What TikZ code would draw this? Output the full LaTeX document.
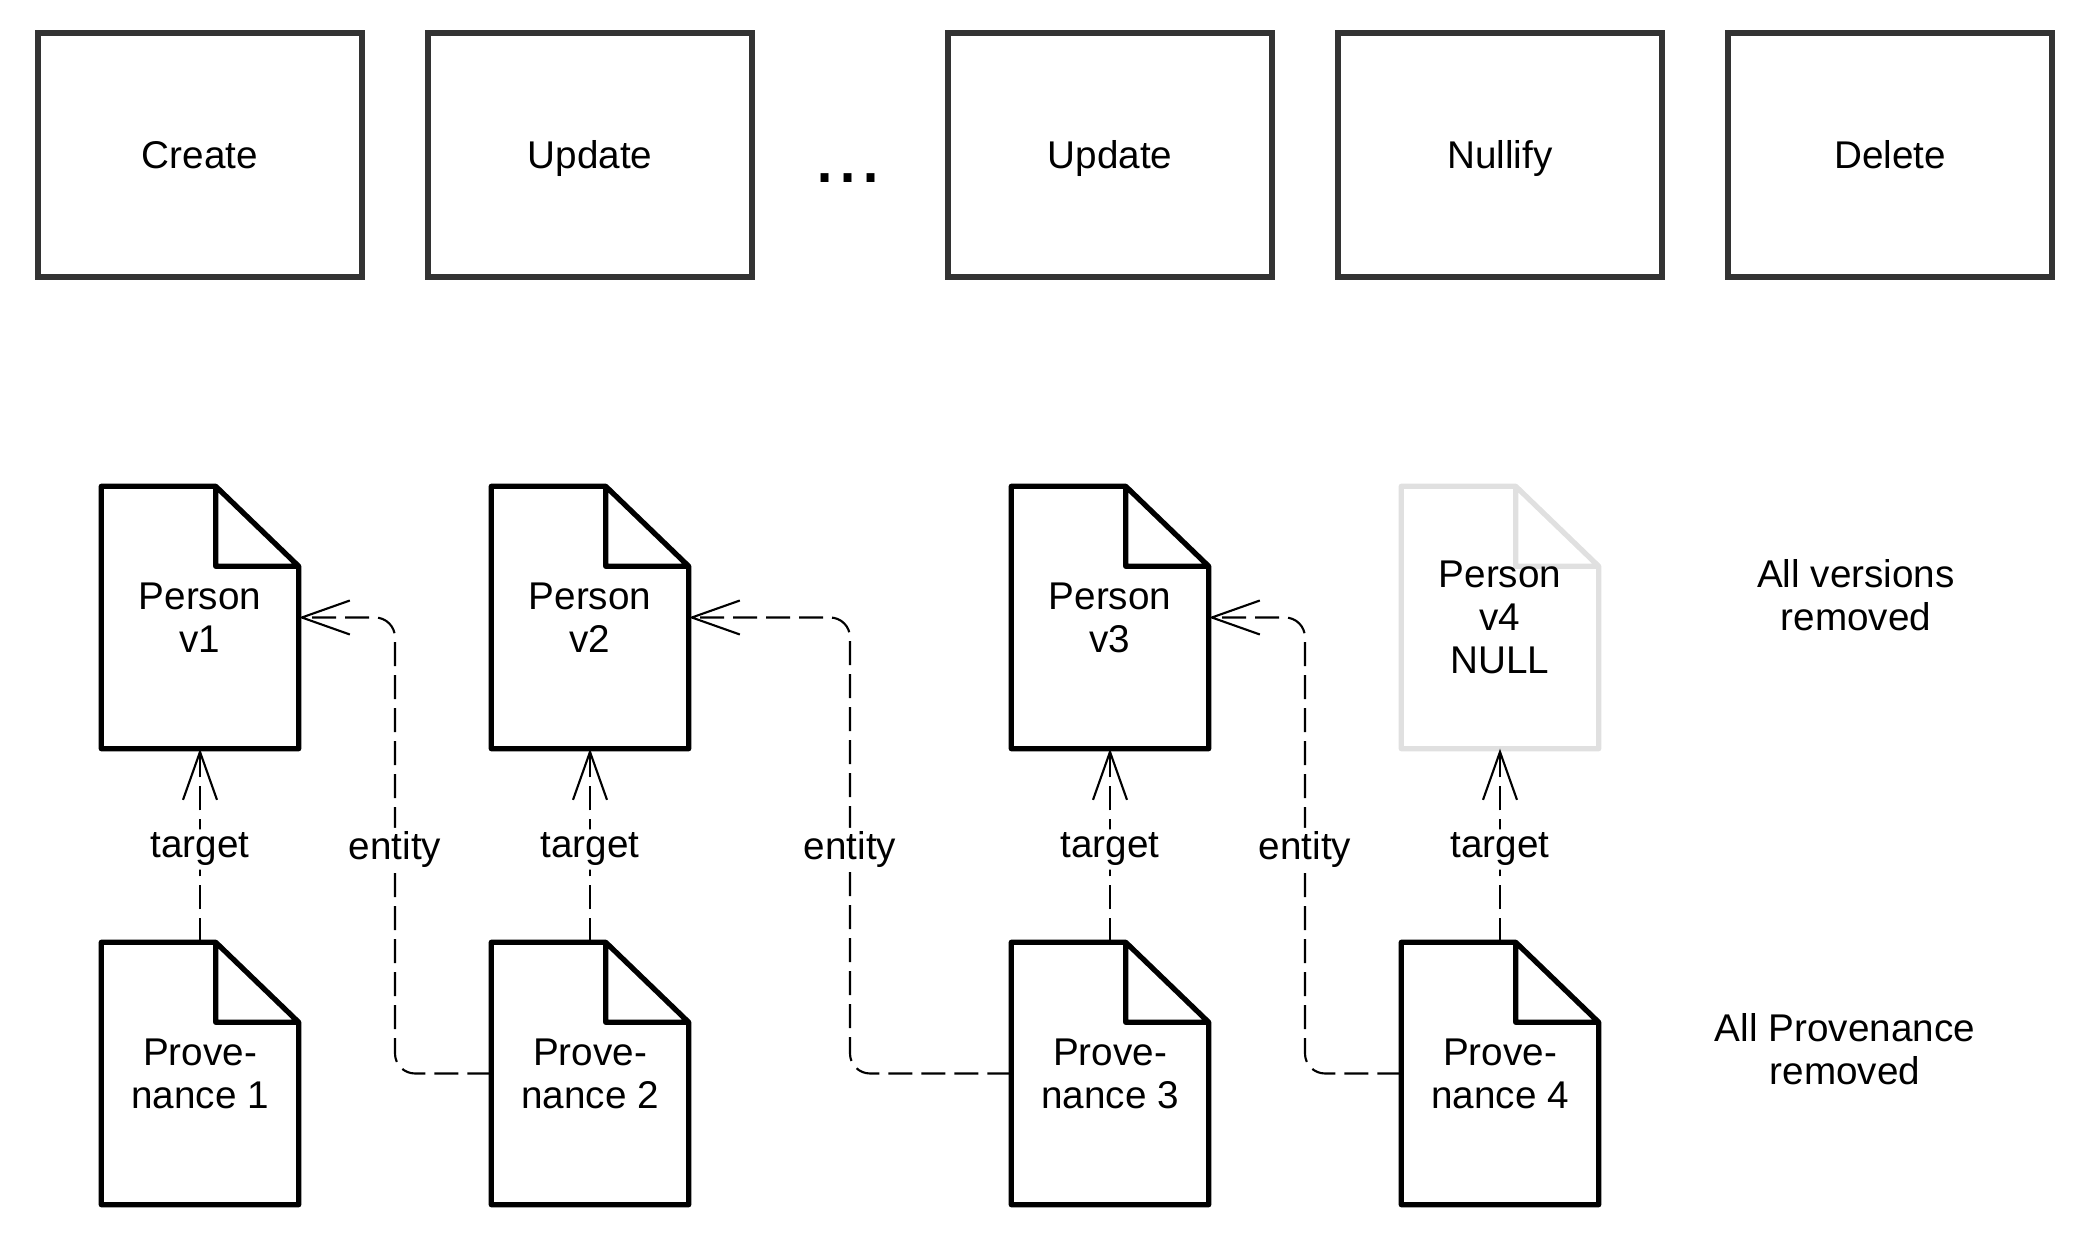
\documentclass[tikz,border=0pt]{standalone}
\usepackage{fontspec}
\setmainfont{Liberation Sans}
\usetikzlibrary{arrows.meta,calc}
\definecolor{boxgrey}{HTML}{333333}
\definecolor{nullgrey}{HTML}{E0E0E0}
\begin{document}
\begin{tikzpicture}
                [font=\fontsize{11}{12.2}\selectfont,
                 op/.style={rectangle, draw=boxgrey, line width=1.6pt, minimum width=3.24cm, minimum height=2.44cm, inner sep=0pt,
                   text height=7.9pt, text depth=0pt},
                 doc/.style={rectangle, minimum width=1.96cm, minimum height=2.61cm, inner sep=0pt, align=center,
                   append after command={\pgfextra{\draw[draw=#1, line width=1.5pt, line join=round]
                     (\tikzlastnode.south west) -- (\tikzlastnode.north west) -- ([xshift=-8.3mm]\tikzlastnode.north east)
                     -- ([yshift=-8mm]\tikzlastnode.north east) -- (\tikzlastnode.south east) -- cycle
                     ([xshift=-8.3mm]\tikzlastnode.north east) |- ([yshift=-8mm]\tikzlastnode.north east);}}},
                 doc/.default=black,
                 link/.style={draw, line width=0.6pt, dash pattern=on 2.4mm off 0.9mm, rounded corners=2mm,
                   -{Straight Barb[length=4.8mm, width=3.4mm]}},
                 lbl/.style={fill=white, inner sep=1pt, yshift=-0.4mm}]
                \useasboundingbox (0,0) rectangle (21,12.46);
                % Operations
                \node[op] (Create) at (2.0,10.91) {Create};
                \node[op] (Update 1) at (5.9,10.91) {Update};
                \node[anchor=base, font=\fontsize{23.6}{24}\selectfont] (dots) at (8.48,10.63) {...};
                \node[op] (Update 2) at (11.1,10.91) {Update};
                \node[op] (Nullify) at (15.0,10.91) {Nullify};
                \node[op] (Delete) at (18.9,10.91) {Delete};
                % Person versions
                \node[doc] (Person 1) at (2.0,6.285) {Person\\v1};
                \node[doc] (Person 2) at (5.9,6.285) {Person\\v2};
                \node[doc] (Person 3) at (11.1,6.285) {Person\\v3};
                \node[doc=nullgrey] (Person 4) at (15.0,6.285) {Person\\v4\\NULL};
                % Provenance records
                \node[doc] (Prov 1) at (2.0,1.725) {Prove-\\nance 1};
                \node[doc] (Prov 2) at (5.9,1.725) {Prove-\\nance 2};
                \node[doc] (Prov 3) at (11.1,1.725) {Prove-\\nance 3};
                \node[doc] (Prov 4) at (15.0,1.725) {Prove-\\nance 4};
                % Notes
                \node[align=center] (Versions note) at (18.56,6.51) {All versions\\removed};
                \node[align=center] (Prov note) at (18.45,1.97) {All Provenance\\removed};
                % Bend points
                \coordinate (bend 1) at ($(Person 1.east)!0.5!(Person 2.west)$);
                \coordinate (bend 2) at ($(Person 2.east)!0.5!(Person 3.west)$);
                \coordinate (bend 3) at ($(Person 3.east)!0.5!(Person 4.west)$);
                % Define edges
                \draw[link] (Prov 1.north) -- node[lbl] {target} (Person 1.south);
                \draw[link] (Prov 2.north) -- node[lbl] {target} (Person 2.south);
                \draw[link] (Prov 3.north) -- node[lbl] {target} (Person 3.south);
                \draw[link] (Prov 4.north) -- node[lbl] {target} (Person 4.south);
                \draw[link] (Prov 2.west) -| node[lbl, pos=0.75] {entity} (bend 1) -- (Person 1.east);
                \draw[link] (Prov 3.west) -| node[lbl, pos=0.75] {entity} (bend 2) -- (Person 2.east);
                \draw[link] (Prov 4.west) -| node[lbl, pos=0.75] {entity} (bend 3) -- (Person 3.east);
\end{tikzpicture}
\end{document}
